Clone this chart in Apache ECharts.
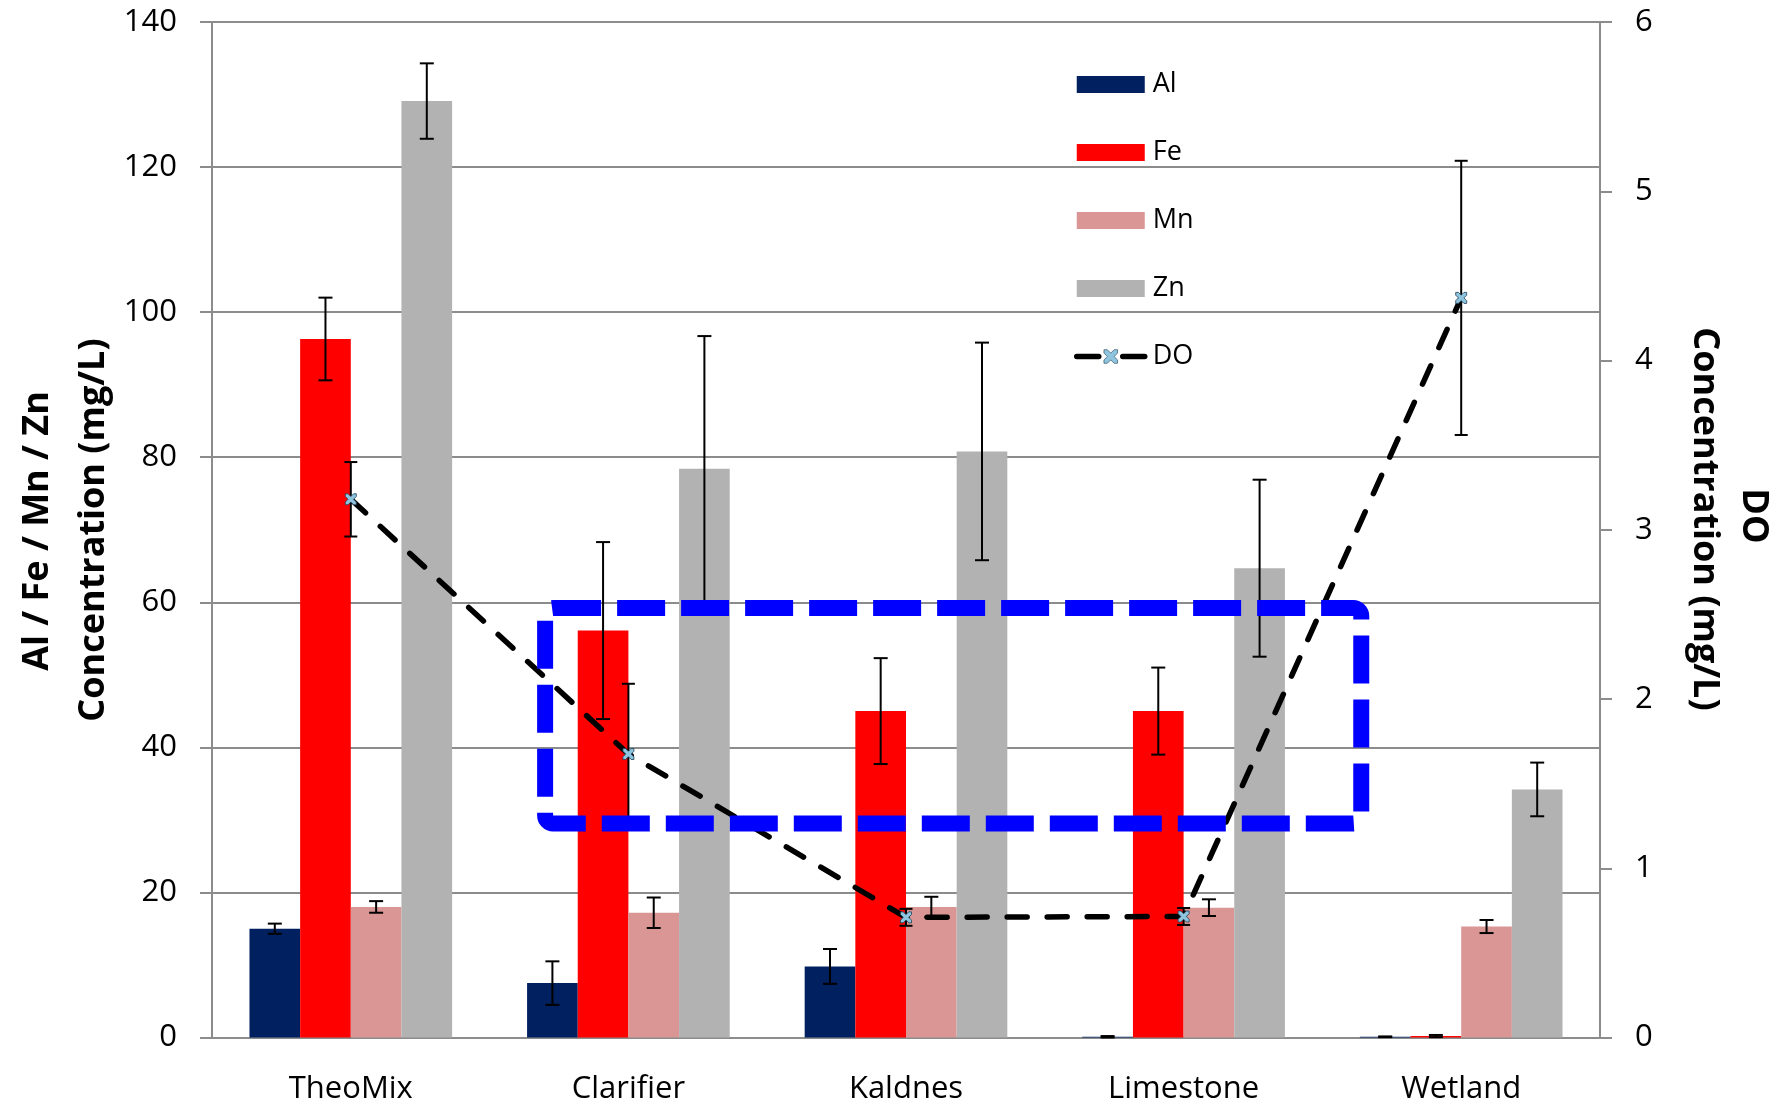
<!DOCTYPE html>
<html>
<head>
<meta charset="utf-8">
<title>Metal and DO concentrations by treatment stage</title>
<script src="https://cdn.jsdelivr.net/npm/echarts@6/dist/echarts.min.js"></script>
<style>
  html, body { margin: 0; padding: 0; background: #ffffff; }
  #chart { width: 1779px; height: 1105px; }
</style>
</head>
<body>
<div id="chart"></div>
<script>
// Treatment stages along the x axis
const categories = ['TheoMix', 'Clarifier', 'Kaldnes', 'Limestone', 'Wetland'];

// Metal concentrations (mg/L) with standard deviations
const alValues = [15.0, 7.5, 9.8, 0.1, 0.1];
const alErrors = [0.7, 3.0, 2.4, 0.1, 0.05];
const feValues = [96.3, 56.1, 45.0, 45.0, 0.2];
const feErrors = [5.7, 12.2, 7.3, 6.0, 0.15];
const mnValues = [18.0, 17.2, 18.0, 17.9, 15.3];
const mnErrors = [0.8, 2.1, 1.4, 1.15, 0.9];
const znValues = [129.1, 78.4, 80.8, 64.7, 34.2];
const znErrors = [5.2, 18.3, 15.0, 12.2, 3.7];

// Dissolved oxygen (mg/L, right axis) with standard deviations
const doValues = [3.18, 1.675, 0.71, 0.715, 4.37];
const doErrors = [0.22, 0.415, 0.05, 0.05, 0.81];

// Axis tick settings
const leftAxisMax = 140, leftAxisStep = 20;
const rightAxisMax = 6, rightAxisStep = 1;

const metals = [
  { name: 'Al', values: alValues, errors: alErrors, color: '#002060' },
  { name: 'Fe', values: feValues, errors: feErrors, color: '#ff0000' },
  { name: 'Mn', values: mnValues, errors: mnErrors, color: '#d99694' },
  { name: 'Zn', values: znValues, errors: znErrors, color: '#b2b2b2' }
];

const CATEGORY_GAP = 0.27;
const FONT = '"Open Sans", "Liberation Sans", sans-serif';
const TITLE_FONT = '"Open Sans", "Liberation Sans", sans-serif';
const GRID_GREY = '#8c8c8c';

// Error bar drawn at a bar's centre (slot = position of the bar in its group)
function errorBarRenderer(slot, slots, capHalf) {
  return function (params, api) {
    const i = api.value(0);
    const v = api.value(1);
    const e = api.value(2);
    const band = api.size([1, 0])[0];
    const bw = band * (1 - CATEGORY_GAP) / slots;
    const offset = slots > 1 ? (slot - (slots - 1) / 2) * bw : 0;
    const cx = api.coord([i, v])[0] + offset;
    const yHi = api.coord([i, v + e])[1];
    const yLo = api.coord([i, Math.max(v - e, 0)])[1];
    const style = { stroke: '#000000', lineWidth: 2 };
    return {
      type: 'group',
      children: [
        { type: 'line', shape: { x1: cx, y1: yHi, x2: cx, y2: yLo }, style: style },
        { type: 'line', shape: { x1: cx - capHalf, y1: yHi, x2: cx + capHalf, y2: yHi }, style: style },
        { type: 'line', shape: { x1: cx - capHalf, y1: yLo, x2: cx + capHalf, y2: yLo }, style: style }
      ]
    };
  };
}

const series = [];
metals.forEach(function (m) {
  series.push({
    name: m.name,
    type: 'bar',
    data: m.values,
    barGap: '0%',
    barCategoryGap: (CATEGORY_GAP * 100) + '%',
    itemStyle: { color: m.color },
    z: 2
  });
});
metals.forEach(function (m, k) {
  series.push({
    type: 'custom',
    name: m.name + ' error',
    silent: true,
    z: 3,
    renderItem: errorBarRenderer(k, metals.length, 7),
    data: m.values.map(function (v, i) { return [i, v, m.errors[i]]; })
  });
});

// X-shaped marker used on the DO line
const crossSymbol = 'path://M0,0L2.5,0L5,2.5L7.5,0L10,0L10,2.5L7.5,5L10,7.5L10,10L7.5,10L5,7.5L2.5,10L0,10L0,7.5L2.5,5L0,2.5Z';

series.push({
  name: 'DO',
  type: 'line',
  yAxisIndex: 1,
  data: doValues,
  symbol: crossSymbol,
  symbolSize: 11,
  itemStyle: { color: '#8fc4de', borderColor: '#1f3f55', borderWidth: 0.8 },
  lineStyle: { color: '#000000', width: 5.5, type: [20, 20], cap: 'round' },
  z: 6
});
series.push({
  type: 'custom',
  name: 'DO error',
  yAxisIndex: 1,
  silent: true,
  z: 5,
  renderItem: errorBarRenderer(0, 1, 6.5),
  data: doValues.map(function (v, i) { return [i, v, doErrors[i]]; })
});

const chart = echarts.init(document.getElementById('chart'), null, { renderer: 'canvas' });

chart.setOption({
  animation: false,
  backgroundColor: '#ffffff',
  grid: { left: 212, right: 179, top: 22, bottom: 67.5, containLabel: false },
  legend: {
    orient: 'vertical',
    left: 1069,
    top: 66,
    itemWidth: 68,
    itemHeight: 17,
    itemGap: 41,
    selectedMode: false,
    textStyle: { fontFamily: FONT, fontSize: 27, color: '#000000', padding: [0, 0, 0, 3] },
    data: [
      { name: 'Al', icon: 'rect' },
      { name: 'Fe', icon: 'rect' },
      { name: 'Mn', icon: 'rect' },
      { name: 'Zn', icon: 'rect' },
      {
        name: 'DO',
        lineStyle: { color: '#000000', width: 5.5, type: [22, 24], cap: 'round' },
        itemStyle: { color: '#8fc4de', borderColor: '#1f3f55', borderWidth: 0.6 }
      }
    ]
  },
  xAxis: {
    type: 'category',
    data: categories,
    axisLine: { show: true, lineStyle: { color: GRID_GREY, width: 2 } },
    axisTick: { show: false },
    axisLabel: { fontFamily: FONT, fontSize: 31, color: '#000000', margin: 36 },
    splitLine: { show: false }
  },
  yAxis: [
    {
      type: 'value',
      min: 0,
      max: leftAxisMax,
      interval: leftAxisStep,
      position: 'left',
      axisLine: { show: true, lineStyle: { color: GRID_GREY, width: 2 } },
      axisTick: { show: true, length: 12, lineStyle: { color: GRID_GREY, width: 2 } },
      axisLabel: { fontFamily: FONT, fontSize: 31, color: '#000000', margin: 35 },
      splitLine: { show: true, lineStyle: { color: GRID_GREY, width: 2 } }
    },
    {
      type: 'value',
      min: 0,
      max: rightAxisMax,
      interval: rightAxisStep,
      position: 'right',
      axisLine: { show: true, lineStyle: { color: GRID_GREY, width: 2 } },
      axisTick: { show: true, length: 12, lineStyle: { color: GRID_GREY, width: 2 } },
      axisLabel: { fontFamily: FONT, fontSize: 31, color: '#000000', margin: 35 },
      splitLine: { show: false }
    }
  ],
  series: series
});

// Highlight box around the Clarifier–Limestone stages (in axis units)
const boxStart = { category: 'Clarifier', shift: -0.30, value: 59.2 };
const boxEnd = { category: 'Limestone', shift: 0.64, value: 29.5 };

const band = chart.convertToPixel({ xAxisIndex: 0 }, categories[1]) -
             chart.convertToPixel({ xAxisIndex: 0 }, categories[0]);
const p1 = chart.convertToPixel({ xAxisIndex: 0, yAxisIndex: 0 }, [boxStart.category, boxStart.value]);
const p2 = chart.convertToPixel({ xAxisIndex: 0, yAxisIndex: 0 }, [boxEnd.category, boxEnd.value]);
const bx1 = p1[0] + boxStart.shift * band;
const bx2 = p2[0] + boxEnd.shift * band;

const titleStyle = {
  fontFamily: TITLE_FONT,
  fontWeight: 'bold',
  fontSize: 36,
  fill: '#000000',
  align: 'center',
  verticalAlign: 'middle'
};

chart.setOption({
  graphic: [
    {
      type: 'rect',
      z: 100,
      silent: true,
      shape: { x: bx1, y: p1[1], width: bx2 - bx1, height: p2[1] - p1[1], r: 8 },
      style: { fill: null, stroke: '#0000ff', lineWidth: 16, lineDash: [48, 16] }
    },
    {
      type: 'text', x: 38, y: 531, rotation: Math.PI / 2, silent: true,
      style: Object.assign({ text: 'Al / Fe / Mn / Zn' }, titleStyle)
    },
    {
      type: 'text', x: 94, y: 530, rotation: Math.PI / 2, silent: true,
      style: Object.assign({ text: 'Concentration (mg/L)' }, titleStyle)
    },
    {
      type: 'text', x: 1753, y: 516, rotation: -Math.PI / 2, silent: true,
      style: Object.assign({ text: 'DO' }, titleStyle)
    },
    {
      type: 'text', x: 1704, y: 519, rotation: -Math.PI / 2, silent: true,
      style: Object.assign({ text: 'Concentration (mg/L)' }, titleStyle)
    }
  ]
});
</script>
</body>
</html>
